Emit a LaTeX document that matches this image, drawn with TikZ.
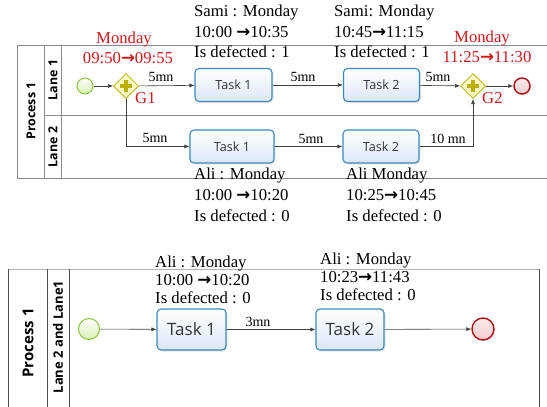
\documentclass[tikz,border=0pt]{standalone}
\usepackage{fontspec}
\setmainfont{Liberation Serif}
\setsansfont{Open Sans}
\newfontfamily\arrfont{DejaVu Sans}
\usetikzlibrary{shapes.geometric,arrows.meta,shadows}
\newcommand{\rarr}{{\arrfont\bfseries →}}
\definecolor{taskborder}{HTML}{3D88B8}
\definecolor{taskfill}{HTML}{DBE7F7}
\definecolor{startborder}{HTML}{8CC43C}
\definecolor{startfill}{HTML}{D9F0B4}
\definecolor{gateborder}{HTML}{C4BC2A}
\definecolor{gatefill}{HTML}{FBF8C8}
\definecolor{pluscol}{HTML}{BDB000}
\definecolor{endborder}{HTML}{B20B12}
\definecolor{endfill}{HTML}{F5CFCF}
\definecolor{redtxt}{HTML}{CC1A1A}
\definecolor{pool}{HTML}{8A8A8A}
\definecolor{flowc}{HTML}{404040}
\begin{document}
\begin{tikzpicture}[x=1pt,y=-1pt,
  taskbox/.style={draw=taskborder, line width=1.1pt, rounded corners=4pt,
    top color=white, bottom color=taskfill, inner sep=0pt,
    drop shadow={opacity=0.18, shadow xshift=1.5pt, shadow yshift=-1.5pt},
    font=\sffamily\fontsize{12.6}{14}\selectfont, text=black!80},
  bigtask/.style={taskbox, font=\sffamily\fontsize{17}{19}\selectfont},
  startev/.style={circle, draw=startborder, line width=1pt, inner sep=0pt,
    top color=white, bottom color=startfill},
  endev/.style={circle, draw=endborder, line width=1.4pt, inner sep=0pt,
    top color=endfill!40, bottom color=endfill,
    drop shadow={opacity=0.15, shadow xshift=1.5pt, shadow yshift=-1.5pt}},
  gate/.style={diamond, draw=gateborder, line width=1pt, fill=gatefill,
    inner sep=0pt, minimum width=25pt, minimum height=25pt},
  flow/.style={draw=flowc, line width=0.6pt, -{Latex[length=5pt,width=4pt]}},
  poolline/.style={draw=pool, line width=0.8pt},
  note/.style={anchor=base west, inner sep=0pt, font=\fontsize{16.7}{20}\selectfont},
  rednote/.style={anchor=base, inner sep=0pt, text=redtxt, font=\fontsize{16.7}{20}\selectfont},
  lbl/.style={anchor=base, inner sep=0pt, font=\fontsize{14}{16}\selectfont},
  lanelbl/.style={rotate=90, inner sep=0pt, font=\sffamily\bfseries\fontsize{12.4}{14}\selectfont}
]
\useasboundingbox (0,0) rectangle (547,407);
\clip (0,0) rectangle (547,407);

% ---------- top pool ----------
\draw[poolline] (17,45) rectangle (570,178);
\draw[poolline] (44,45) -- (44,178);
\draw[poolline] (61,45) -- (61,178);
\draw[poolline] (44,115) -- (570,115);
\node[lanelbl] (p1) at (31,111) {Process 1};
\node[lanelbl] (l1) at (53,80) {Lane 1};
\node[lanelbl] (l2) at (53,147) {Lane 2};

\node[startev, minimum size=16pt] (s1) at (85,86) {};
\node[gate] (g1) at (126,86) {};
\fill[pluscol] ([shift={(-6,-2)}]g1.center) rectangle ([shift={(6,2)}]g1.center);
\fill[pluscol] ([shift={(-2,-6)}]g1.center) rectangle ([shift={(2,6)}]g1.center);
\node[taskbox, minimum width=77pt, minimum height=33pt] (t11) at (233.5,85) {Task 1};
\node[taskbox, minimum width=76pt, minimum height=33pt] (t12) at (381.5,85) {Task 2};
\node[gate] (g2) at (473,86) {};
\fill[pluscol] ([shift={(-6,-2)}]g2.center) rectangle ([shift={(6,2)}]g2.center);
\fill[pluscol] ([shift={(-2,-6)}]g2.center) rectangle ([shift={(2,6)}]g2.center);
\node[endev, minimum size=16pt] (e1) at (522,86) {};
\node[taskbox, minimum width=84pt, minimum height=33pt] (t21) at (232,146.5) {Task 1};
\node[taskbox, minimum width=76pt, minimum height=33pt] (t22) at (381,146.5) {Task 2};

\draw[flow] (s1) -- (g1);
\draw[flow] (g1) -- (t11);
\draw[flow] (g1.south) |- (t21);
\draw[flow] (t11) -- (t12);
\draw[flow] (t12) -- (g2);
\draw[flow] (g2) -- (e1);
\draw[flow] (t21) -- (t22);
\draw[flow] (t22) -| (g2.south);

\node[lbl] (m1) at (161,81) {5mn};
\node[lbl] (m2) at (155,142) {5mn};
\node[lbl] (m3) at (303,81) {5mn};
\node[lbl] (m4) at (438,81) {5mn};
\node[lbl] (m5) at (311,143) {5mn};
\node[lbl] (m6) at (448,143) {10 mn};

\node[rednote] (r1) at (124,43) {Monday};
\node[rednote] (r2) at (128,63) {09:50\rarr09:55};
\node[rednote, anchor=base west] (r3) at (135,103) {G1};
\node[rednote] (r4) at (482,42) {Monday};
\node[rednote] (r5) at (487,62) {11:25\rarr11:30};
\node[rednote, anchor=base west] (r6) at (482,103) {G2};

\node[note] (a1) at (194,16) {Sami : Monday};
\node[note] (a2) at (194,37) {10:00 \rarr10:35};
\node[note] (a3) at (194,57) {Is defected : 1};
\node[note] (b1) at (334,16) {Sami: Monday};
\node[note] (b2) at (334,37) {10:45\rarr11:15};
\node[note] (b3) at (334,57) {Is defected : 1};
\node[note] (c1) at (194,179) {Ali : Monday};
\node[note] (c2) at (194,200) {10:00 \rarr10:20};
\node[note] (c3) at (194,221) {Is defected : 0};
\node[note] (d1) at (346,179) {Ali Monday};
\node[note] (d2) at (346,200) {10:25\rarr10:45};
\node[note] (d3) at (346,221) {Is defected : 0};

% ---------- bottom pool ----------
\draw[draw=black!30, line width=0.9pt] (8,269) -- (539,269);
\draw[draw=black!70, line width=0.9pt] (8,269) -- (8,420);
\draw[draw=black!70, line width=0.9pt] (539,269) -- (539,420);
\draw[draw=black!70, line width=0.9pt] (47,269) -- (47,420);
\draw[draw=black!70, line width=0.9pt] (69,269) -- (69,420);
\node[lanelbl, font=\sffamily\bfseries\fontsize{15}{17}\selectfont] (p2) at (28,343) {Process 1};
\node[lanelbl, font=\sffamily\bfseries\fontsize{13}{15}\selectfont] (l3) at (58,337) {Lane 2 and Lane1};

\node[startev, minimum size=21pt] (s2) at (89,329) {};
\node[bigtask, minimum width=69pt, minimum height=41pt] (u1) at (191.5,329.5) {Task 1};
\node[bigtask, minimum width=68pt, minimum height=41pt] (u2) at (350,329.5) {Task 2};
\node[endev, minimum size=22pt] (e2) at (483,329) {};

\draw[flow] (s2) -- (u1);
\draw[flow] (u1) -- (u2);
\draw[flow] (u2) -- (e2);
\node[lbl] (m7) at (258,326) {3mn};

\node[note] (f1) at (155,267) {Ali : Monday};
\node[note] (f2) at (155,285) {10:00 \rarr10:20};
\node[note] (f3) at (155,303) {Is defected : 0};
\node[note] (h1) at (320,264) {Ali : Monday};
\node[note] (h2) at (320,282) {10:23\rarr11:43};
\node[note] (h3) at (320,300) {Is defected : 0};
\end{tikzpicture}
\end{document}
